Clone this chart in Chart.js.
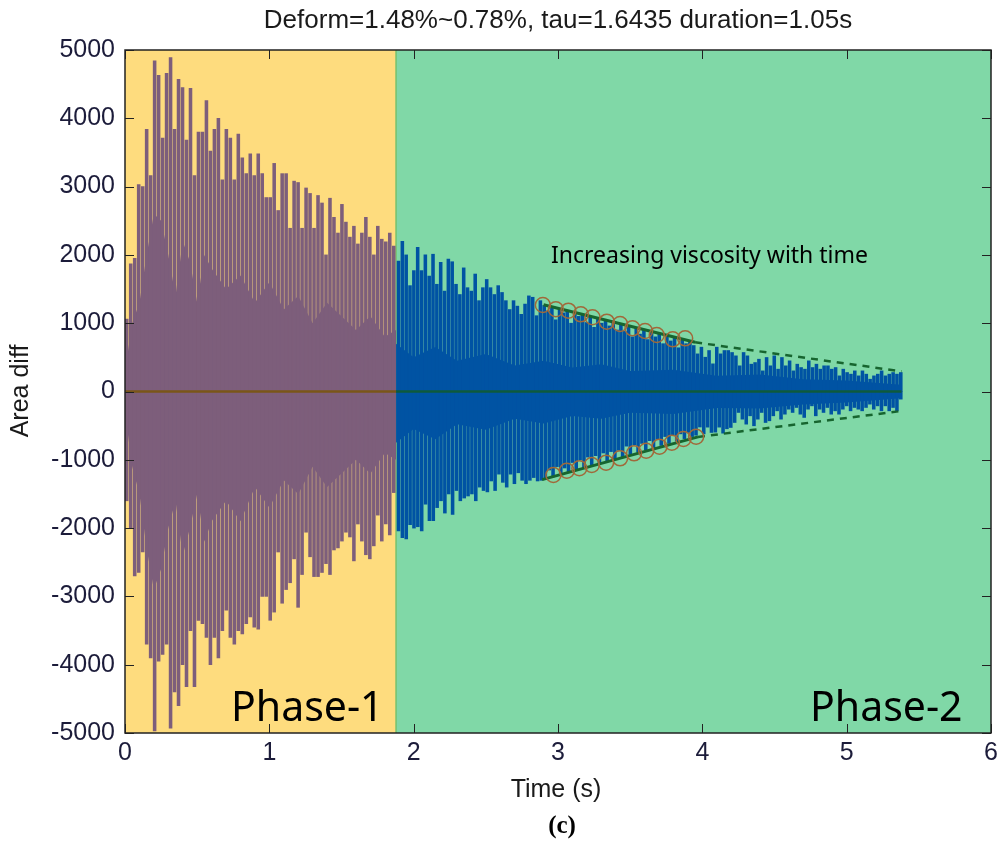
<!DOCTYPE html>
<html>
<head>
<meta charset="utf-8">
<script src="https://cdn.jsdelivr.net/npm/chart.js@4.4.1/dist/chart.umd.min.js"></script>
<style>
    html, body { margin: 0; padding: 0; background: #ffffff; }
    canvas { display: block; }
</style>
</head>
<body>
<canvas id="areaDiffChart" width="1004" height="843"></canvas>
<script>
// Area diff oscillation
const phaseSplit = 1.878;
const xTicks = [0, 1, 2, 3, 4, 5, 6];
const yTicks = [-5000, -4000, -3000, -2000, -1000, 0, 1000, 2000, 3000, 4000, 5000];

// Phase-1 column peaks (t = 0.012 .. 1.862 s)
const p1Span = [0.012, 1.862];
const p1Tops = [1060, 1870, 1950, 3030, 3000, 3840, 3160, 4840, 4630, 3710,
    4660, 4890, 3840, 4570, 4450, 3680, 4440, 3160, 3800, 3800,
    4260, 3520, 3840, 4000, 3100, 3840, 3710, 3100, 3770, 3420,
    3190, 3480, 3160, 3480, 3190, 2840,
    2840, 3340, 2650, 3190, 3190, 2390, 3080, 3060, 2390, 2980,
    2900, 2390, 2870, 2760, 2000, 2830, 2550, 2320, 2740, 2480,
    2260, 2420, 2160, 2320, 2550, 2260, 2000, 2420, 2230, 2190,
    2320, 2130];
const p1Bottoms = [-1600, -2000, -2700, -2650, -2350, -3700, -3900, -4970, -3950, -3850,
    -3700, -4930, -4400, -4600, -4000, -4320, -3500, -4320, -3350, -3400,
    -3600, -4000, -3600, -3900, -3500, -3200, -3600, -3700, -3500, -3550,
    -3400, -3300, -3450, -3480, -3000, -3000,
    -3350, -3230, -2350, -3100, -2900, -2800, -2450, -3160, -2680, -2060,
    -2420, -2710, -2710, -2650, -2520, -2680, -2320, -2290, -2190, -2060,
    -2130, -2480, -1940, -2190, -2390, -2450, -2260, -1810, -2190, -1940,
    -2100, -1480];

// Phase-2 column peaks (t = 1.895 .. 5.375 s)
const p2Span = [1.895, 5.375];
const p2Tops = [1910, 2200, 2000, 1550, 1770, 2110, 1770, 2000, 1690, 2010,
    1570, 1890, 1470, 1940, 1900, 1570, 1420, 1810, 1520, 1470,
    1720, 1330, 1520, 1640, 1520, 1420, 1550, 1450, 1330, 1200,
    1330, 1250, 1130, 1280, 1400, 1380, 1110, 1330,
    1260, 1180, 1240, 1050, 1210, 1150, 1180, 1000, 1150, 1100,
    1120, 1010, 1095, 940, 1065, 1000, 1040, 960, 1010, 900,
    980, 880, 955, 800, 925, 840, 900, 760, 870, 800,
    840, 700, 815, 740, 785, 640, 760, 700, 730,
    673, 551, 649, 502, 600, 405, 649, 551, 600, 600,
    571, 522, 376, 571, 522, 400, 424, 473, 302, 498,
    376, 522, 327, 498, 376, 449, 302, 400, 351, 327,
    449, 351, 400, 327, 376, 376, 327, 351, 229, 327,
    278, 254, 302, 229, 302, 254, 180, 229, 254, 302,
    229, 254, 278, 254, 278];
const p2Bottoms = [-2040, -2140, -2160, -1950, -2000, -1980, -2040, -1650, -1890, -1890,
    -1700, -1600, -1780, -1500, -1800, -1450, -1600, -1560, -1530, -1500,
    -1600, -1400, -1450, -1470, -1310, -1450, -1210, -1330, -1400, -1210,
    -1350, -1190, -1300, -1350, -1300, -1260, -1310, -1300,
    -1280, -1150, -1250, -1100, -1215, -1120, -1185, -1040, -1150, -1000,
    -1120, -960, -1085, -940, -1050, -900, -1020, -880, -985, -860,
    -955, -800, -920, -780, -890, -760, -855, -720, -825, -700,
    -790, -660, -760, -640, -725, -620, -690, -600, -660,
    -640, -520, -620, -522, -600, -595, -522, -610, -546,
    -527, -454, -307, -405, -478, -356, -502, -405, -307, -454,
    -429, -356, -283, -405, -332, -259, -307, -234, -332, -380,
    -259, -210, -356, -259, -307, -234, -332, -283, -332, -259,
    -210, -283, -234, -259, -283, -234, -185, -259, -210, -283,
    -210, -283, -234, -283, -112];

// solid body of the oscillation (where the light gaps stop)
const p1CoreTimes = [0, 0.05, 0.1, 0.15, 0.2, 0.25, 0.3, 0.35, 0.4, 0.45, 0.5, 0.55, 0.6,
    0.7, 0.8, 0.9, 1.0, 1.1, 1.2, 1.3, 1.4, 1.5, 1.6, 1.7, 1.8, 1.878];
const p1CorePos = [300, 1000, 1300, 2000, 2600, 2500, 2000, 1400, 2200, 1900, 1300, 2000, 1800,
    1500, 1700, 1300, 1600, 1200, 1400, 1000, 1300, 1100, 900, 1100, 800, 900];
const p1CoreNeg = [-300, -1100, -1500, -2300, -2900, -2600, -2000, -1600, -2400, -2000, -1500, -2200, -1900,
    -1600, -1900, -1400, -1700, -1300, -1500, -1100, -1400, -1200, -1000, -1200, -900, -1000];
const p2CoreTimes = [1.878, 2.0, 2.15, 2.3, 2.5, 2.7, 2.9, 3.1, 3.3, 3.5, 3.8, 4.1, 4.4, 4.7, 5.0, 5.38];
const p2CorePos = [700, 500, 650, 450, 550, 380, 450, 350, 400, 300, 320, 230, 250, 180, 160, 100];
const p2CoreNeg = [-750, -550, -700, -480, -560, -400, -470, -360, -400, -310, -330, -240, -250, -190, -160, -100];

// zero line
const zeroTimes1 = [0, phaseSplit];
const zeroTimes2 = [phaseSplit, 5.38];

// decay envelope fit (solid part with circles, dashed continuation)
const fitUpperTimes = [2.9, 3.95];
const fitUpperValues = [1270, 720];
const fitLowerTimes = [2.89, 3.97];
const fitLowerValues = [-1290, -665];
const dashUpperTimes = [3.95, 5.38];
const dashUpperValues = [720, 295];
const dashLowerTimes = [3.97, 5.38];
const dashLowerValues = [-665, -285];
const circleUpperTimes = [2.895, 2.985, 3.072, 3.158, 3.239, 3.338, 3.430, 3.516, 3.603, 3.684, 3.795, 3.881];
const circleUpperValues = [1266, 1204, 1183, 1130, 1087, 1022, 988, 925, 886, 827, 764, 779];
const circleLowerTimes = [2.968, 3.061, 3.148, 3.234, 3.333, 3.430, 3.527, 3.611, 3.703, 3.789, 3.869, 3.957];
const circleLowerValues = [-1223, -1160, -1124, -1076, -1043, -978, -905, -867, -808, -750, -695, -662];

const FONT = "'Liberation Sans', Arial, sans-serif";
const phase1Bg = '#fedc7e';
const phase2Bg = '#80d8a7';
const phase1Ink = '#7d5e7b';
const phase2Ink = '#0053a3';
const fitGreen = '#17652f';

function spreadBars(values, span, upward) {
    const n = values.length;
    return values.map((v, i) => ({
        x: span[0] + (span[1] - span[0]) * i / (n - 1),
        y: upward ? [0, v] : [v, 0]
    }));
}

function pairs(times, values) {
    return times.map((t, i) => ({ x: t, y: values[i] }));
}

function barSet(values, span, upward, color, thickness) {
    return {
        type: 'bar',
        data: spreadBars(values, span, upward),
        backgroundColor: color,
        borderWidth: 0,
        barThickness: thickness,
        grouped: false,
        order: 10
    };
}

function coreSet(times, values, color) {
    return {
        type: 'line',
        data: pairs(times, values),
        borderWidth: 0,
        pointRadius: 0,
        backgroundColor: color,
        fill: 'origin',
        tension: 0,
        order: 11
    };
}

function lineSet(times, values, color, width, dash, order) {
    return {
        type: 'line',
        data: pairs(times, values),
        borderColor: color,
        borderWidth: width,
        borderDash: dash,
        pointRadius: 0,
        fill: false,
        tension: 0,
        order: order
    };
}

function circleSet(times, values) {
    return {
        type: 'line',
        data: pairs(times, values),
        showLine: false,
        pointRadius: 7.5,
        pointBorderWidth: 1.5,
        pointBorderColor: '#a0693a',
        pointBackgroundColor: 'rgba(0,0,0,0)',
        order: 1
    };
}

const phaseBackground = {
    id: 'phaseBackground',
    beforeDatasetsDraw(chart) {
        const { ctx, chartArea, scales } = chart;
        const xs = scales.x.getPixelForValue(phaseSplit);
        ctx.save();
        ctx.fillStyle = phase1Bg;
        ctx.fillRect(chartArea.left, chartArea.top, xs - chartArea.left, chartArea.bottom - chartArea.top);
        ctx.fillStyle = phase2Bg;
        ctx.fillRect(xs, chartArea.top, chartArea.right - xs, chartArea.bottom - chartArea.top);
        ctx.strokeStyle = '#74c26e';
        ctx.lineWidth = 1.5;
        ctx.beginPath();
        ctx.moveTo(xs, chartArea.top);
        ctx.lineTo(xs, chartArea.bottom);
        ctx.stroke();
        ctx.restore();
    }
};

const axesFrame = {
    id: 'axesFrame',
    afterDatasetsDraw(chart) {
        const { ctx, chartArea, scales } = chart;
        const { left, right, top, bottom } = chartArea;
        ctx.save();
        ctx.strokeStyle = '#222222';
        ctx.lineWidth = 1;
        xTicks.forEach(v => {
            const px = Math.round(scales.x.getPixelForValue(v)) + 0.5;
            ctx.beginPath();
            ctx.moveTo(px, bottom); ctx.lineTo(px, bottom - 9);
            ctx.moveTo(px, top); ctx.lineTo(px, top + 9);
            ctx.stroke();
        });
        yTicks.forEach(v => {
            const py = Math.round(scales.y.getPixelForValue(v)) + 0.5;
            ctx.beginPath();
            ctx.moveTo(left, py); ctx.lineTo(left + 9, py);
            ctx.moveTo(right, py); ctx.lineTo(right - 9, py);
            ctx.stroke();
        });
        ctx.lineWidth = 1.5;
        ctx.strokeRect(left, top, right - left, bottom - top);
        ctx.restore();
    },
    afterDraw(chart) {
        const { ctx, chartArea } = chart;
        const cx = (chartArea.left + chartArea.right) / 2;
        ctx.save();
        ctx.fillStyle = '#1a1a1a';
        ctx.textAlign = 'center';
        ctx.textBaseline = 'middle';
        ctx.font = '26px ' + FONT;
        ctx.fillText('Deform=1.48%~0.78%, tau=1.6435 duration=1.05s', cx, 21);
        ctx.font = '25px ' + FONT;
        ctx.fillText('Time (s)', 556, 790);
        ctx.save();
        ctx.translate(21, 391);
        ctx.rotate(-Math.PI / 2);
        ctx.fillText('Area diff', 0, 0);
        ctx.restore();
        ctx.fillStyle = '#000000';
        ctx.font = 'bold 25px "Liberation Serif", "Times New Roman", serif';
        ctx.fillText('(c)', 562, 827);
        ctx.textAlign = 'left';
        ctx.textBaseline = 'alphabetic';
        ctx.font = '41px "Noto Sans", sans-serif';
        ctx.fillText('Phase-1', 231, 721);
        ctx.fillText('Phase-2', 810, 721);
        ctx.font = '23px "Noto Sans", sans-serif';
        ctx.fillText('Increasing viscosity with time', 551, 263);
        ctx.restore();
    }
};

new Chart(document.getElementById('areaDiffChart'), {
    type: 'bar',
    data: {
        datasets: [
            circleSet(circleUpperTimes, circleUpperValues),
            circleSet(circleLowerTimes, circleLowerValues),
            lineSet(fitUpperTimes, fitUpperValues, fitGreen, 3, [], 2),
            lineSet(fitLowerTimes, fitLowerValues, fitGreen, 3, [], 2),
            lineSet(dashUpperTimes, dashUpperValues, fitGreen, 2.5, [7, 6], 3),
            lineSet(dashLowerTimes, dashLowerValues, fitGreen, 2.5, [7, 6], 3),
            lineSet(zeroTimes1, [0, 0], '#7a5618', 2.5, [], 4),
            lineSet(zeroTimes2, [0, 0], '#0e5a3c', 2.5, [], 4),
            barSet(p1Tops, p1Span, true, phase1Ink, 2.9),
            barSet(p1Bottoms, p1Span, false, phase1Ink, 2.9),
            barSet(p2Tops, p2Span, true, phase2Ink, 2.9),
            barSet(p2Bottoms, p2Span, false, phase2Ink, 2.9),
            coreSet(p1CoreTimes, p1CorePos, phase1Ink),
            coreSet(p1CoreTimes, p1CoreNeg, phase1Ink),
            coreSet(p2CoreTimes, p2CorePos, phase2Ink),
            coreSet(p2CoreTimes, p2CoreNeg, phase2Ink)
        ]
    },
    options: {
        responsive: false,
        animation: false,
        layout: {
            padding: { left: 0, top: 50, right: 13, bottom: 0 }
        },
        plugins: {
            legend: { display: false },
            tooltip: { enabled: false }
        },
        scales: {
            x: {
                type: 'linear',
                min: 0,
                max: 6,
                offset: false,
                afterFit: function (scale) { scale.height = 110; },
                ticks: {
                    stepSize: 1,
                    padding: 5,
                    color: '#1c1c3a',
                    font: { family: FONT, size: 25 },
                    callback: function (value) { return String(value); }
                },
                grid: { display: false, drawTicks: false },
                border: { display: false }
            },
            y: {
                type: 'linear',
                min: -5000,
                max: 5000,
                afterFit: function (scale) { scale.width = 125; },
                ticks: {
                    stepSize: 1000,
                    padding: 10,
                    color: '#1c1c3a',
                    font: { family: FONT, size: 25 },
                    callback: function (value) { return String(value); }
                },
                grid: { display: false, drawTicks: false },
                border: { display: false }
            }
        }
    },
    plugins: [phaseBackground, axesFrame]
});
</script>
</body>
</html>
